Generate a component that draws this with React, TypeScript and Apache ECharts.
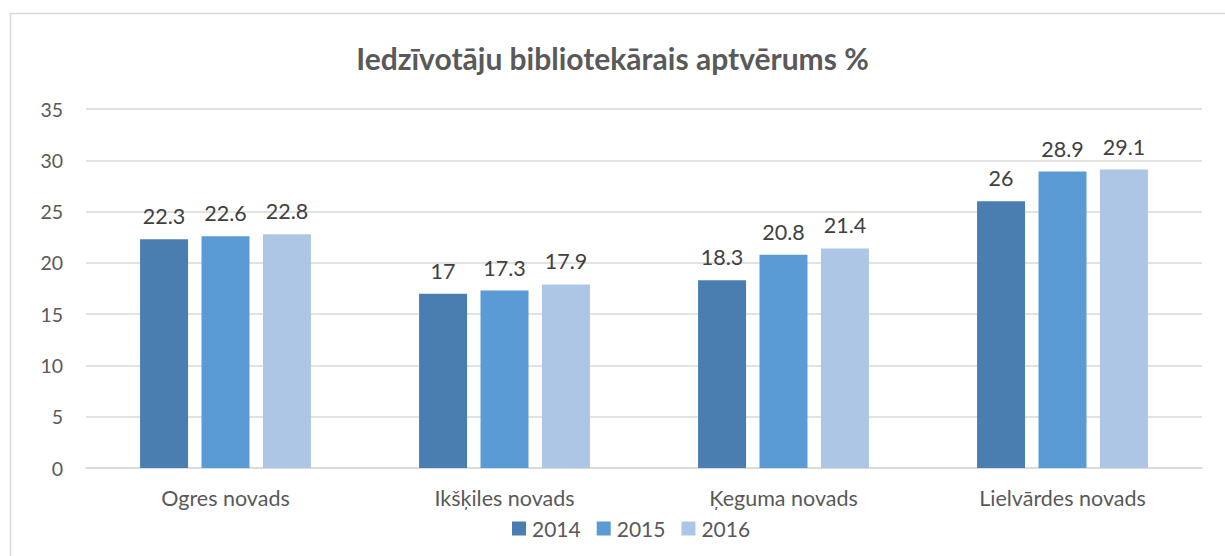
import React, { useEffect, useRef } from "react";
import * as echarts from "echarts";

const categories = ["Ogres novads", "Ikšķiles novads", "Ķeguma novads", "Lielvārdes novads"];
const years = ["2014", "2015", "2016"];
const values2014 = [22.3, 17, 18.3, 26];
const values2015 = [22.6, 17.3, 20.8, 28.9];
const values2016 = [22.8, 17.9, 21.4, 29.1];
const colors = ["#4A7EB0", "#5B9BD5", "#ADC6E5"];

const FONT = "Lato, 'Open Sans', sans-serif";

export default function App() {
  const ref = useRef<HTMLDivElement>(null);
  useEffect(() => {
    if (!ref.current) return;
    const chart = echarts.init(ref.current, null, { renderer: "svg" });
    const seriesData = [values2014, values2015, values2016];
    chart.setOption({
      animation: false,
      backgroundColor: "#ffffff",
      textStyle: { fontFamily: FONT },
      title: {
        text: "Iedzīvotāju bibliotekārais aptvērums %",
        left: "center",
        top: 38,
        textStyle: { fontFamily: FONT, fontSize: 30, fontWeight: "bold", color: "#595959" },
      },
      graphic: [
        {
          type: "rect",
          shape: { x: 10.5, y: 13.5, width: 1300, height: 700 },
          style: { fill: "none", stroke: "#d9d9d9", lineWidth: 1.5 },
          silent: true,
        },
      ],
      legend: {
        data: years,
        left: 507,
        top: 513,
        itemWidth: 14,
        itemHeight: 14,
        itemGap: 16,
        icon: "rect",
        textStyle: { fontFamily: FONT, fontSize: 21, color: "#595959", padding: [0, 0, 0, 1] },
      },
      grid: { left: 86, right: 23, top: 109, bottom: 88 },
      xAxis: {
        type: "category",
        data: categories,
        axisLine: { lineStyle: { color: "#d9d9d9", width: 1.5 } },
        axisTick: { show: false },
        axisLabel: { fontFamily: FONT, fontSize: 21.5, color: "#595959", margin: 19 },
      },
      yAxis: {
        type: "value",
        min: 0,
        max: 35,
        interval: 5,
        axisLine: { show: false },
        axisTick: { show: false },
        splitLine: { lineStyle: { color: "#d9d9d9", width: 1.5 } },
        axisLabel: { fontFamily: FONT, fontSize: 19.5, color: "#595959", margin: 23 },
      },
      series: years.map((y, i) => ({
        name: y,
        type: "bar",
        data: seriesData[i],
        barWidth: 48,
        barGap: "28%",
        itemStyle: { color: colors[i] },
        label: {
          show: true,
          position: "top",
          distance: 12,
          fontFamily: FONT,
          fontSize: 21.5,
          color: "#404040",
        },
      })),
    });
    return () => chart.dispose();
  }, []);
  return (
    <div
      ref={ref}
      style={{ position: "fixed", left: 0, top: 0, width: 1225, height: 556 }}
    />
  );
}
